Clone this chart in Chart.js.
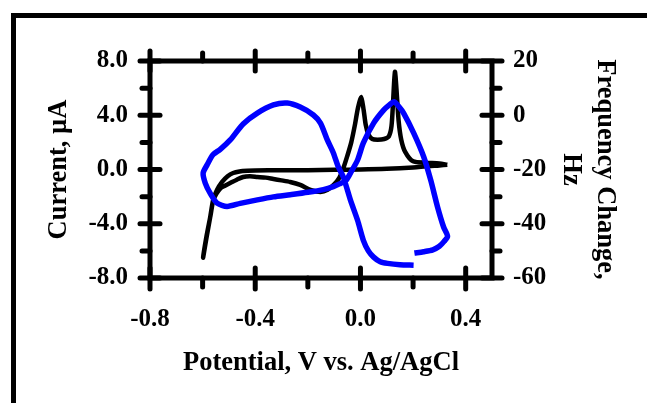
<!DOCTYPE html>
<html>
<head>
<meta charset="utf-8">
<script src="https://cdn.jsdelivr.net/npm/chart.js@4"></script>
<style>
  html, body { margin: 0; padding: 0; background: #fff; }
  #wrap { position: relative; width: 647px; height: 403px; overflow: hidden; }
  /* marco negro grueso de la figura original (cortado a la derecha y abajo) */
  #marco { position: absolute; left: 11px; top: 13px; width: 700px; height: 500px;
           border-left: 5px solid #000; border-top: 5px solid #000; }
  canvas { position: absolute; left: 0; top: 0; }
</style>
</head>
<body>
<div id="wrap">
  <div id="marco"></div>
  <canvas id="grafico" width="647" height="403"></canvas>
</div>
<script>
// --- DATOS ---
// Voltametría cíclica (eje izquierdo, µA)
const cvPotencial = [0.33, 0.30, 0.20, 0.10, 0.00, -0.10, -0.20, -0.30, -0.40, -0.43, -0.46, -0.484, -0.505, -0.526, -0.545, -0.56, -0.571, -0.585, -0.598,
  -0.585, -0.57, -0.56, -0.548, -0.533, -0.515, -0.495, -0.47, -0.446, -0.42, -0.392, -0.36, -0.331, -0.30, -0.267, -0.229, -0.19, -0.152, -0.125, -0.10, -0.08,
  -0.065, -0.05, -0.035, -0.02, -0.01, 0.003, 0.012, 0.02, 0.03, 0.045, 0.065, 0.09, 0.108, 0.118, 0.124, 0.131, 0.138, 0.145, 0.155, 0.17, 0.20, 0.25, 0.30, 0.33];
const cvCorriente = [0.35, 0.30, 0.15, 0.05, 0.00, -0.02, -0.05, -0.05, -0.08, -0.10, -0.15, -0.26, -0.50, -0.92, -1.5, -2.25, -3.5, -5.0, -6.5,
  -4.9, -3.4, -2.3, -1.8, -1.4, -1.2, -1.0, -0.75, -0.55, -0.5, -0.55, -0.6, -0.7, -0.8, -0.92, -1.14, -1.5, -1.66, -1.5, -1.1, -0.6,
  0.1, 1.0, 2.0, 3.4, 4.5, 5.35, 4.4, 3.3, 2.6, 2.25, 2.2, 2.25, 2.45, 3.2, 5.0, 7.2, 5.6, 3.6, 2.2, 1.3, 0.6, 0.5, 0.45, 0.35];

// Microbalanza (eje derecho, Hz)
const qcmPotencial = [0.205, 0.24, 0.275, 0.30, 0.318, 0.331, 0.316, 0.293, 0.267, 0.24, 0.202, 0.164, 0.145, 0.128, 0.11, 0.088, 0.05, 0.011, -0.011, -0.038,
  -0.055, -0.08, -0.103, -0.141, -0.20, -0.267, -0.331, -0.392, -0.457, -0.507, -0.545, -0.571, -0.59, -0.598, -0.583, -0.56, -0.533, -0.495, -0.446, -0.392,
  -0.331, -0.278, -0.229, -0.179, -0.152, -0.126, -0.103, -0.084, -0.065, -0.038, -0.011, 0.011, 0.03, 0.05, 0.075, 0.103, 0.15, 0.202];
const qcmFrecuencia = [-50.8, -50.3, -49.6, -48.3, -46.5, -44.6, -41.2, -33.8, -23.9, -15.2, -6.5, 0.8, 3.3, 5.0, 3.8, 1.9, -2.9, -10.2, -16.5, -21.3,
  -24.0, -25.3, -26.3, -27.4, -28.4, -29.3, -30.1, -31.2, -32.5, -33.6, -32.4, -28.8, -25.0, -21.3, -18.3, -14.5, -12.6, -9.1, -3.2, 0.8,
  3.8, 4.5, 3.0, 0.1, -2.9, -9.1, -13.9, -19.1, -22.8, -31.3, -38.7, -46.1, -50.0, -52.3, -54.0, -54.6, -55.1, -55.3];

// Marcas de los ejes
const xMayores = [-0.8, -0.4, 0.0, 0.4];
const xMenores = [-0.6, -0.2, 0.2];
const yMayores = [-8, -4, 0, 4, 8];
const yMenores = [-6, -2, 2, 6];
const y2Mayores = [-60, -40, -20, 0, 20];
const y2Menores = [-50, -30, -10, 10];

const fuente = { family: "'Liberation Serif', 'Times New Roman', serif", weight: 'bold', size: 25, lineHeight: 1.2 };
const fuenteTitulo = { family: "'Liberation Serif', 'Times New Roman', serif", weight: 'bold', size: 26.5, lineHeight: 1.25 };

// Marco del área de datos + marcas (mayores cruzan el eje, menores hacia afuera)
const marcasPlugin = {
  id: 'marcas',
  afterDraw(chart) {
    const { ctx, chartArea: a, scales } = chart;
    ctx.save();
    ctx.strokeStyle = '#000';
    ctx.lineWidth = 5;
    ctx.strokeRect(a.left, a.top, a.right - a.left, a.bottom - a.top);
    ctx.lineCap = 'round';
    const linea = (x1, y1, x2, y2) => {
      ctx.beginPath();
      ctx.moveTo(x1, y1);
      ctx.lineTo(x2, y2);
      ctx.stroke();
    };
    xMayores.forEach(v => {
      const x = scales.x.getPixelForValue(v);
      linea(x, a.bottom - 10, x, a.bottom + 11);
      linea(x, a.top - 10, x, a.top + 10);
    });
    xMenores.forEach(v => {
      const x = scales.x.getPixelForValue(v);
      linea(x, a.bottom, x, a.bottom + 9);
      linea(x, a.top, x, a.top - 8);
    });
    yMayores.forEach(v => {
      const y = scales.y.getPixelForValue(v);
      linea(a.left - 10, y, a.left + 10, y);
    });
    yMenores.forEach(v => {
      const y = scales.y.getPixelForValue(v);
      linea(a.left - 8, y, a.left, y);
    });
    y2Mayores.forEach(v => {
      const y = scales.y2.getPixelForValue(v);
      linea(a.right - 10, y, a.right + 10, y);
    });
    y2Menores.forEach(v => {
      const y = scales.y2.getPixelForValue(v);
      linea(a.right, y, a.right + 8, y);
    });
    ctx.restore();
  }
};

const puntosCV = cvPotencial.map((v, i) => ({ x: v, y: cvCorriente[i] }));
const puntosQCM = qcmPotencial.map((v, i) => ({ x: v, y: qcmFrecuencia[i] }));

new Chart(document.getElementById('grafico').getContext('2d'), {
  type: 'scatter',
  data: {
    datasets: [
      { data: puntosCV, yAxisID: 'y', showLine: true, borderColor: '#000', borderWidth: 4.5,
        pointRadius: 0, tension: 0.25, order: 2 },
      { data: puntosQCM, yAxisID: 'y2', showLine: true, borderColor: '#0000ff', borderWidth: 5.5,
        pointRadius: 0, tension: 0.25, order: 1 }
    ]
  },
  options: {
    responsive: false,
    animation: false,
    devicePixelRatio: 1,
    layout: { padding: { top: 61, left: 0, right: 0, bottom: 0 } },
    plugins: { legend: { display: false }, tooltip: { enabled: false } },
    scales: {
      x: {
        type: 'linear', position: 'bottom', min: -0.8, max: 0.5,
        afterBuildTicks: s => { s.ticks = xMayores.map(v => ({ value: v })); },
        afterFit: s => { s.height = 125; },
        ticks: { font: fuente, color: '#000', padding: 27, maxRotation: 0, callback: v => v.toFixed(1) },
        grid: { display: false, drawTicks: false },
        border: { display: false },
        title: { display: true, text: 'Potential, V vs. Ag/AgCl', font: fuenteTitulo, color: '#000',
                 padding: { top: 0, bottom: 23 } }
      },
      y: {
        type: 'linear', position: 'left', min: -8, max: 8,
        afterBuildTicks: s => { s.ticks = yMayores.map(v => ({ value: v })); },
        afterFit: s => { s.width = 150; },
        ticks: { font: fuente, color: '#000', padding: 22, callback: v => v.toFixed(1) },
        grid: { display: false, drawTicks: false },
        border: { display: false },
        title: { display: true, text: 'Current, µA', font: fuenteTitulo, color: '#000',
                 padding: { top: 43, bottom: 0 } }
      },
      y2: {
        type: 'linear', position: 'right', min: -60, max: 20,
        afterBuildTicks: s => { s.ticks = y2Mayores.map(v => ({ value: v })); },
        afterFit: s => { s.width = 155; },
        ticks: { font: fuente, color: '#000', padding: 21, callback: v => String(v) },
        grid: { display: false, drawTicks: false },
        border: { display: false },
        title: { display: true, text: ['Frequency Change,', 'Hz'], font: fuenteTitulo, color: '#000',
                 padding: { top: 26, bottom: 0 } }
      }
    }
  },
  plugins: [marcasPlugin]
});
</script>
</body>
</html>
